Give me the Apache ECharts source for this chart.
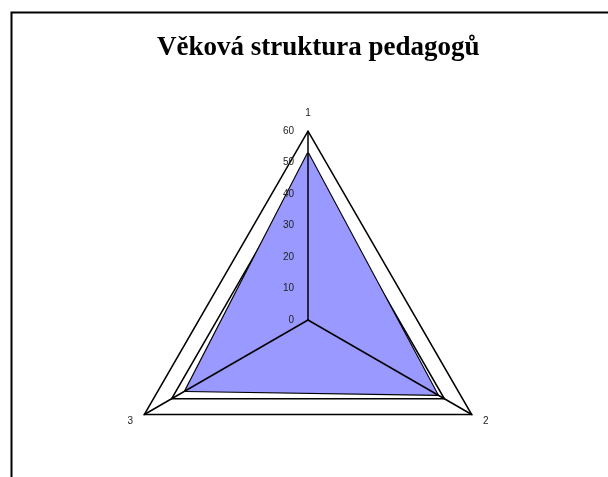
<!DOCTYPE html>
<html>
<head>
<meta charset="utf-8">
<script src="https://cdn.jsdelivr.net/npm/echarts@6/dist/echarts.min.js"></script>
<style>
    html, body { margin: 0; padding: 0; background: #fff; }
    #chart { width: 608px; height: 477px; }
</style>
</head>
<body>
<div id="chart"></div>
<script>
//osy grafu
var categories = ['1', '2', '3'];
//hodnoty
var values = [53, 47.5, 45];
//popisky stupnice
var tickLabels = [0, 10, 20, 30, 40, 50, 60];
var maxValue = 60;

var chart = echarts.init(document.getElementById('chart'));

//echarts kresli osy proti smeru hodin, proto poradi 1, 3, 2
var order = [0, 2, 1];
var indicators = [];
var seriesData = [];
order.forEach(function (i) {
    indicators.push({ name: categories[i], max: maxValue, min: 0 });
    seriesData.push(values[i]);
});

var radarBase = {
    center: [308, 320],
    radius: 189,
    startAngle: 90,
    shape: 'polygon',
    splitNumber: tickLabels.length - 1,
    indicator: indicators
};

var option = {
    backgroundColor: '#fff',
    animation: false,
    title: {
        text: 'Věková struktura pedagogů',
        left: 152,
        top: 30,
        textStyle: {
            fontFamily: 'Liberation Serif',
            fontWeight: 'bold',
            fontSize: 27,
            color: '#000'
        }
    },
    graphic: [{
        type: 'rect',
        left: 9,
        top: 10,
        shape: { width: 700, height: 600 },
        style: { fill: 'none', stroke: '#000', lineWidth: 2 }
    }],
    radar: [
        echarts.util.merge({
            z: 0,
            axisName: { color: '#222', fontSize: 10, fontFamily: 'Arial' },
            nameGap: 13,
            axisLine: { show: false },
            splitLine: { lineStyle: { color: '#000', width: 1.5 } },
            splitArea: { show: false }
        }, radarBase),
        echarts.util.merge({
            z: 5,
            axisName: { show: false },
            axisLine: { lineStyle: { color: '#000', width: 1.5 } },
            splitLine: { show: false },
            splitArea: { show: false }
        }, radarBase)
    ],
    grid: { left: 308, width: 1, top: 131, height: 189 },
    xAxis: { show: false, type: 'value' },
    yAxis: {
        type: 'value',
        z: 10,
        min: tickLabels[0],
        max: tickLabels[tickLabels.length - 1],
        interval: tickLabels[1] - tickLabels[0],
        axisLine: { show: false },
        axisTick: { show: false },
        splitLine: { show: false },
        axisLabel: { margin: 14, fontSize: 10, fontFamily: 'Arial', color: '#222' }
    },
    series: [{
        type: 'radar',
        radarIndex: 0,
        symbol: 'none',
        itemStyle: { color: '#000' },
        //vypln prekryva vnitrni polovinu cary
        lineStyle: { color: '#000', width: 2.2, opacity: 1 },
        areaStyle: { color: '#9999ff', opacity: 1 },
        data: [{ value: seriesData }]
    }]
};

chart.setOption(option);
</script>
</body>
</html>
